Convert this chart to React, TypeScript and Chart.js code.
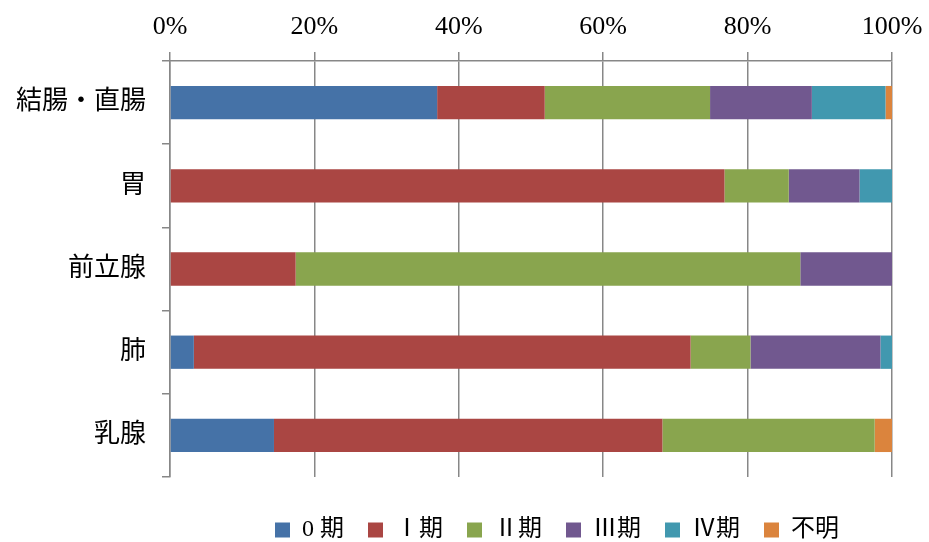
import React, { useEffect, useRef } from "react";
import { Chart, registerables } from "chart.js";

Chart.register(...registerables);

const categories = ["結腸・直腸", "胃", "前立腺", "肺", "乳腺"];
const stageLabels = ["0 期", "Ⅰ期", "Ⅱ期", "Ⅲ期", "Ⅳ期", "不明"];
const stage0 = [37.0, 0, 0, 3.3, 14.4];
const stage1 = [14.9, 76.8, 17.4, 68.8, 53.8];
const stage2 = [22.9, 8.9, 69.9, 8.3, 29.4];
const stage3 = [14.1, 9.8, 12.7, 18.0, 0];
const stage4 = [10.2, 4.5, 0, 1.6, 0];
const stageUnknown = [0.9, 0, 0, 0, 2.4];
const xTicks = [0, 20, 40, 60, 80, 100];
const colors = ["#4572A7", "#AA4643", "#89A54E", "#71588F", "#4198AF", "#DB843D"];

const FONT = "'Liberation Serif', 'Noto Sans CJK JP', serif";

export default function App() {
  const ref = useRef<HTMLCanvasElement | null>(null);
  useEffect(() => {
    if (!ref.current) return;
    const series = [stage0, stage1, stage2, stage3, stage4, stageUnknown];
    const shiftLegend = {
      id: "shiftLegend",
      afterLayout(chart: any) {
        const lg = chart.legend;
        if (!lg) return;
        const dy = 494 - lg.top;
        const dx = 557 - (lg.left + lg.right) / 2;
        lg.top += dy;
        lg.bottom += dy;
        lg.left += dx;
        lg.right += dx;
      },
    };
    const chart = new Chart(ref.current, {
      type: "bar",
      data: {
        labels: categories,
        datasets: series.map((d, i) => ({
          label: stageLabels[i],
          data: d,
          backgroundColor: colors[i],
          borderWidth: 0,
          categoryPercentage: 1,
          barPercentage: 0.4,
        })),
      },
      options: {
        indexAxis: "y",
        animation: false,
        responsive: false,
        maintainAspectRatio: false,
        layout: { padding: { left: 8, right: 37, top: 0, bottom: 7 } },
        plugins: {
          tooltip: { enabled: false },
          legend: {
            position: "bottom",
            labels: {
              boxWidth: 15,
              boxHeight: 15,
              padding: 24,
              color: "#000",
              font: { family: FONT, size: 24 },
            },
          },
        },
        scales: {
          x: {
            position: "top",
            stacked: true,
            min: 0,
            max: 100,
            afterBuildTicks: (s: any) => {
              s.ticks = xTicks.map((v) => ({ value: v }));
            },
            afterFit: (s: any) => {
              s.height = 61;
              s.paddingRight = 0;
              s.paddingLeft = 0;
            },
            ticks: {
              callback: (v: any) => v + "%",
              color: "#000",
              padding: 9,
              font: { family: FONT, size: 26 },
              maxRotation: 0,
            },
            grid: {
              color: "#878787",
              lineWidth: 1.5,
              drawTicks: true,
              tickLength: 9,
            },
            border: { display: true, color: "#878787", width: 1.5 },
          },
          y: {
            stacked: true,
            afterFit: (s: any) => {
              s.width = 162;
            },
            ticks: {
              color: "#000",
              padding: 16,
              font: { family: FONT, size: 26 },
            },
            grid: {
              offset: true,
              drawOnChartArea: false,
              drawTicks: true,
              tickLength: 8,
              color: "#878787",
              lineWidth: 1.5,
            },
            border: { display: true, color: "#878787", width: 1.5 },
          },
        },
      },
      plugins: [shiftLegend],
    });
    return () => chart.destroy();
  }, []);
  return (
    <div style={{ position: "absolute", left: 0, top: 0, width: 929, height: 542, background: "#fff" }}>
      <canvas ref={ref} width={929} height={542} style={{ width: 929, height: 542 }} />
    </div>
  );
}
